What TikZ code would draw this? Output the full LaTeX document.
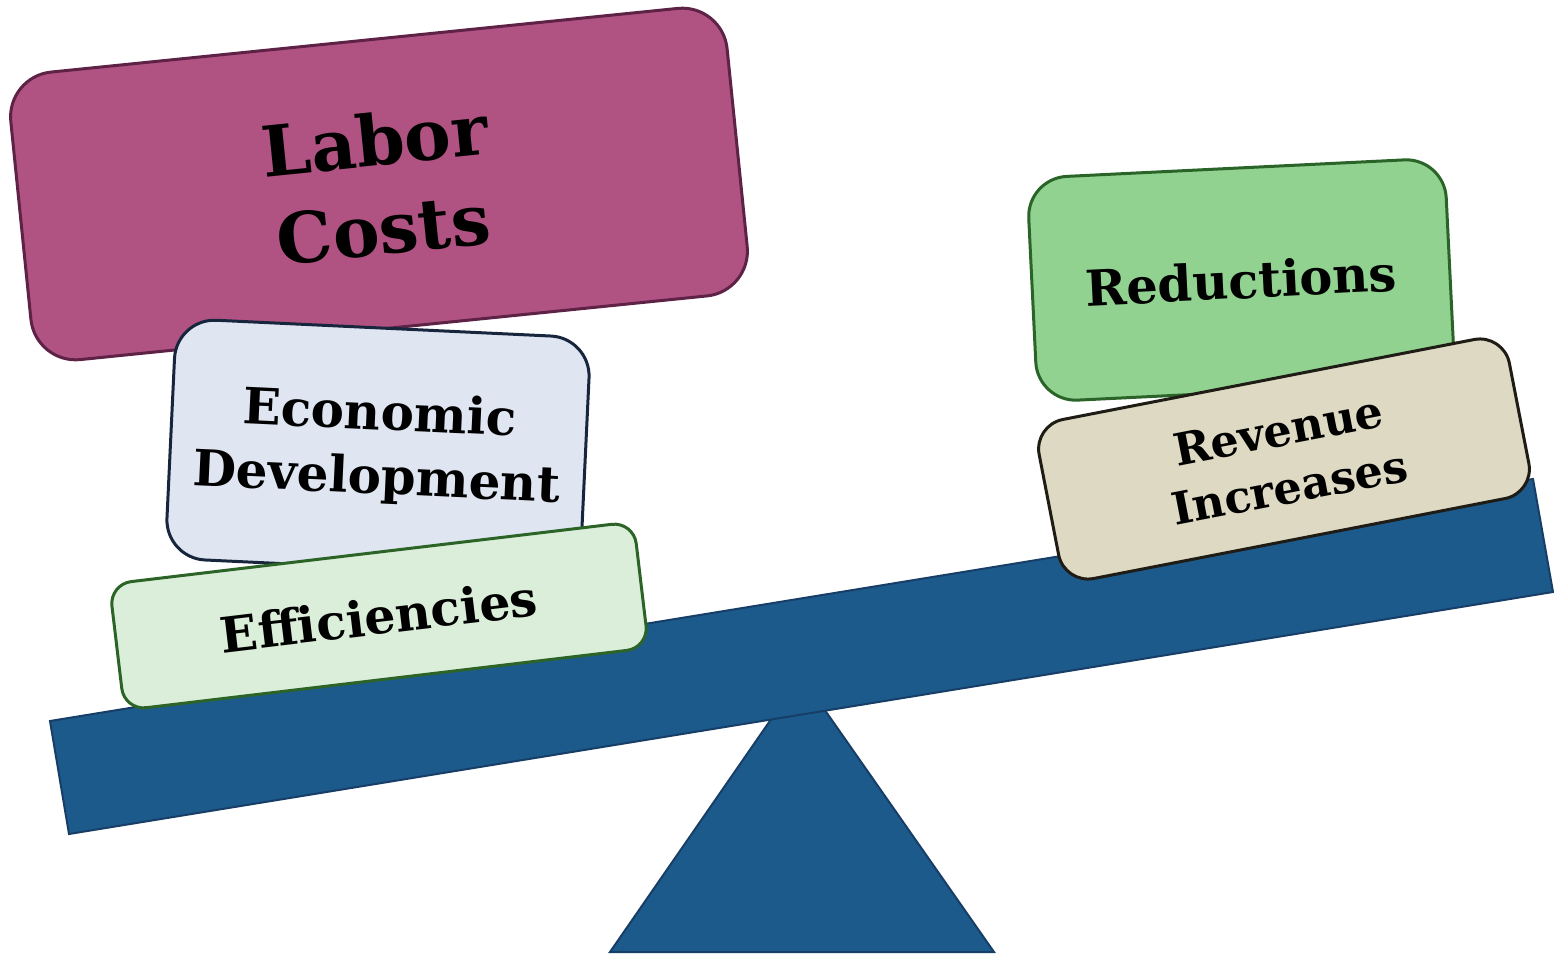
\documentclass[tikz,border=0pt]{standalone}
\usepackage{fontspec}
\setmainfont{DejaVu Serif}
\usepackage{xcolor}

\definecolor{beamblue}{HTML}{1D5A8C}
\definecolor{beamline}{HTML}{173E66}
\definecolor{laborfill}{HTML}{B05382}
\definecolor{laborline}{HTML}{5E2247}
\definecolor{econfill}{HTML}{DFE6F2}
\definecolor{econline}{HTML}{17263D}
\definecolor{efffill}{HTML}{DAEEDA}
\definecolor{effline}{HTML}{2C6428}
\definecolor{redfill}{HTML}{91D291}
\definecolor{redline}{HTML}{2A6428}
\definecolor{revfill}{HTML}{DDD9C3}
\definecolor{revline}{HTML}{1E1C14}

\begin{document}
\begin{tikzpicture}[x=1pt, y=-1pt,
    block/.style={draw, line width=3pt, align=center, inner sep=0pt, font=\bfseries\fontsize{50}{64}\selectfont}]
    \useasboundingbox (0,0) rectangle (1554,953);

    % Fulcrum and beam
    \draw[line width=2pt, draw=beamline, fill=beamblue] (801,676) -- (994,952) -- (610,952) -- cycle;
    \draw[line width=2pt, draw=beamline, fill=beamblue] (50,721) -- (1533,479) -- (1553,592) -- (69,834) -- cycle;

    % Left stack
    \node[block, fill=laborfill, draw=laborline, rounded corners=45pt, minimum width=720pt, minimum height=289pt, rotate=5.8, font=\bfseries\fontsize{70}{89}\selectfont] (labor) at (379,184) {Labor\\Costs};
    \node[block, fill=econfill, draw=econline, rounded corners=40pt, minimum width=415pt, minimum height=240pt, rotate=-2.7] (econ) at (378,448) {Economic\\Development};
    \node[block, fill=efffill, draw=effline, rounded corners=22pt, minimum width=528pt, minimum height=127pt, rotate=6.8, font=\bfseries\fontsize{49}{60}\selectfont] (eff) at (379,616) {Efficiencies};

    % Right stack
    \node[block, fill=redfill, draw=redline, rounded corners=40pt, minimum width=418pt, minimum height=224pt, rotate=2.8, font=\bfseries\fontsize{49.5}{60}\selectfont] (red) at (1241,280) {Reductions};
    \node[block, fill=revfill, draw=revline, rounded corners=30pt, minimum width=479pt, minimum height=162pt, rotate=11, font=\bfseries\fontsize{44.5}{58}\selectfont] (rev) at (1284,459) {Revenue\\Increases};
\end{tikzpicture}
\end{document}
